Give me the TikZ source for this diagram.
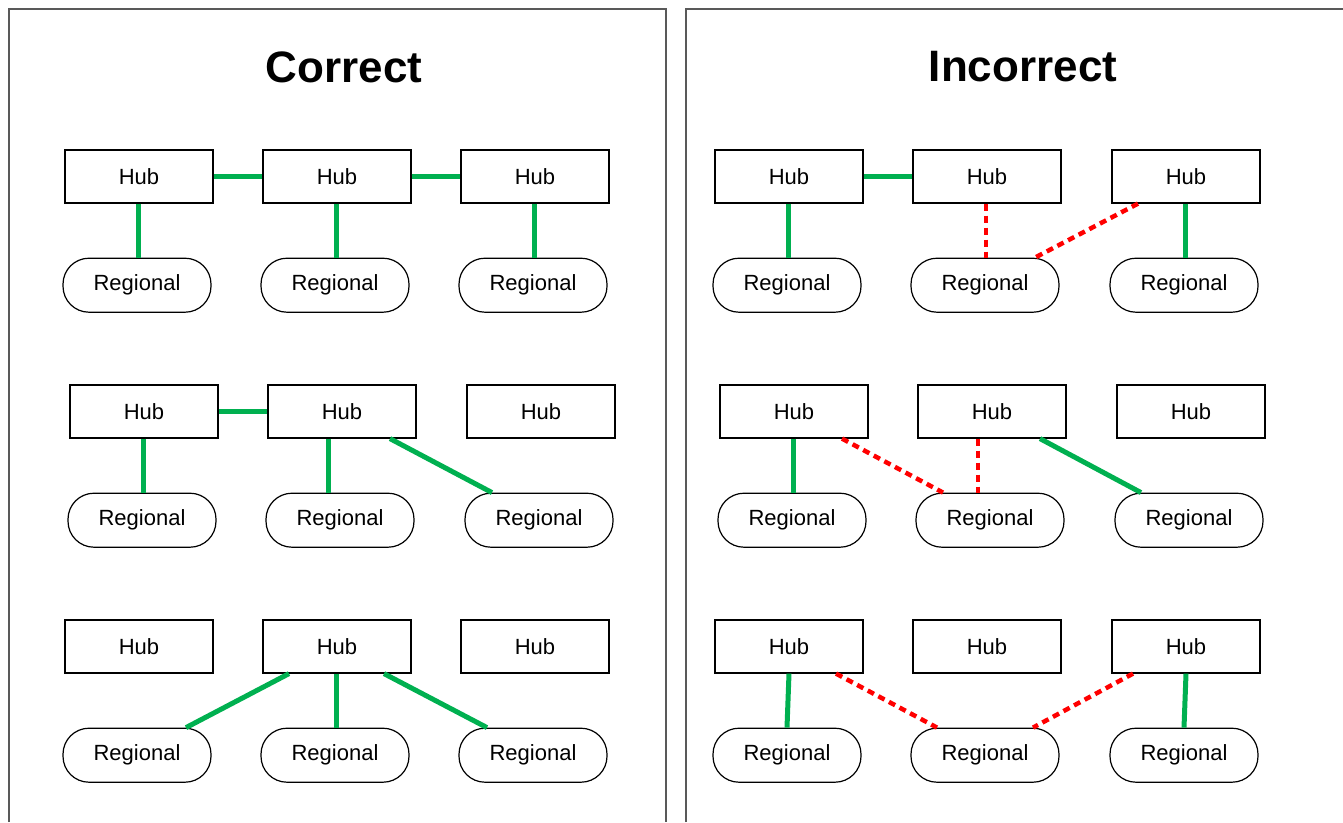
\documentclass[tikz,border=0pt]{standalone}
\usepackage{fontspec}
\setmainfont{Liberation Sans}
\usetikzlibrary{positioning}
\definecolor{linkgreen}{RGB}{0,176,80}
\definecolor{linkred}{RGB}{255,0,0}

\begin{document}
\begin{tikzpicture}[x=1pt, y=-1pt,
    hub/.style={draw, line width=1.2pt, minimum width=148pt, minimum height=53pt, inner sep=0pt, font=\fontsize{22}{26}\selectfont},
    regional/.style={draw, line width=1.2pt, rounded corners=26pt, minimum width=148pt, minimum height=54pt, inner sep=0pt, font=\fontsize{22}{26}\selectfont},
    good/.style={linkgreen, line width=5pt},
    bad/.style={linkred, line width=4.5pt, dash pattern=on 7pt off 5pt},
    heading/.style={font=\fontsize{44}{50}\selectfont\bfseries}]
    \useasboundingbox (0,0) rectangle (1343,822);
    % Panels
    \draw[line width=1.5pt, black!65] (9,822) -- (9,9) -- (666,9) -- (666,822);
    \draw[line width=1.5pt, black!65] (686,822) -- (686,9) -- (1350,9);
    \node[heading] (tc) at (344,67) {Correct};
    \node[heading] (ti) at (1023,67) {Incorrect};

    % Correct, row 1
    \node[hub] (c1h1) at (139,176.5) {Hub};
    \node[hub] (c1h2) at (337,176.5) {Hub};
    \node[hub] (c1h3) at (535,176.5) {Hub};
    \node[regional, below=54pt of c1h1, xshift=-2pt] (c1r1) {Regional};
    \node[regional, below=54pt of c1h2, xshift=-2pt] (c1r2) {Regional};
    \node[regional, below=54pt of c1h3, xshift=-2pt] (c1r3) {Regional};
    \draw[good] (c1h1) -- (c1h2);
    \draw[good] (c1h2) -- (c1h3);
    \draw[good] ([xshift=-1pt]c1h1.south) -- ([xshift=1pt]c1r1.north);
    \draw[good] ([xshift=-1pt]c1h2.south) -- ([xshift=1pt]c1r2.north);
    \draw[good] ([xshift=-1pt]c1h3.south) -- ([xshift=1pt]c1r3.north);

    % Correct, row 2
    \node[hub] (c2h1) at (144,411.5) {Hub};
    \node[hub] (c2h2) at (342,411.5) {Hub};
    \node[hub] (c2h3) at (541,411.5) {Hub};
    \node[regional, below=54pt of c2h1, xshift=-2pt] (c2r1) {Regional};
    \node[regional, below=54pt of c2h2, xshift=-2pt] (c2r2) {Regional};
    \node[regional, below=54pt of c2h3, xshift=-2pt] (c2r3) {Regional};
    \draw[good] (c2h1) -- (c2h2);
    \draw[good] ([xshift=-1pt]c2h1.south) -- ([xshift=1pt]c2r1.north);
    \draw[good] ([xshift=-14pt]c2h2.south) -- ([xshift=-12pt]c2r2.north);
    \draw[good] ([xshift=48pt]c2h2.south) -- ([xshift=-47pt]c2r3.north);

    % Correct, row 3
    \node[hub] (c3h1) at (139,646.5) {Hub};
    \node[hub] (c3h2) at (337,646.5) {Hub};
    \node[hub] (c3h3) at (535,646.5) {Hub};
    \node[regional, below=54pt of c3h1, xshift=-2pt] (c3r1) {Regional};
    \node[regional, below=54pt of c3h2, xshift=-2pt] (c3r2) {Regional};
    \node[regional, below=54pt of c3h3, xshift=-2pt] (c3r3) {Regional};
    \draw[good] ([xshift=-48pt]c3h2.south) -- ([xshift=49pt]c3r1.north);
    \draw[good] ([xshift=-1pt]c3h2.south) -- ([xshift=1pt]c3r2.north);
    \draw[good] ([xshift=47pt]c3h2.south) -- ([xshift=-46pt]c3r3.north);

    % Incorrect, row 1
    \node[hub] (i1h1) at (789,176.5) {Hub};
    \node[hub] (i1h2) at (987,176.5) {Hub};
    \node[hub] (i1h3) at (1186,176.5) {Hub};
    \node[regional, below=54pt of i1h1, xshift=-2pt] (i1r1) {Regional};
    \node[regional, below=54pt of i1h2, xshift=-2pt] (i1r2) {Regional};
    \node[regional, below=54pt of i1h3, xshift=-2pt] (i1r3) {Regional};
    \draw[good] (i1h1) -- (i1h2);
    \draw[good] ([xshift=-1pt]i1h1.south) -- ([xshift=1pt]i1r1.north);
    \draw[bad] ([xshift=-1pt]i1h2.south) -- ([xshift=1pt]i1r2.north);
    \draw[bad] ([xshift=-48pt]i1h3.south) -- ([xshift=50pt]i1r2.north);
    \draw[good] ([xshift=-1pt]i1h3.south) -- ([xshift=1pt]i1r3.north);

    % Incorrect, row 2
    \node[hub] (i2h1) at (794,411.5) {Hub};
    \node[hub] (i2h2) at (992,411.5) {Hub};
    \node[hub] (i2h3) at (1191,411.5) {Hub};
    \node[regional, below=54pt of i2h1, xshift=-2pt] (i2r1) {Regional};
    \node[regional, below=54pt of i2h2, xshift=-2pt] (i2r2) {Regional};
    \node[regional, below=54pt of i2h3, xshift=-2pt] (i2r3) {Regional};
    \draw[good] ([xshift=-1pt]i2h1.south) -- ([xshift=1pt]i2r1.north);
    \draw[bad] ([xshift=48pt]i2h1.south) -- ([xshift=-47pt]i2r2.north);
    \draw[bad] ([xshift=-14pt]i2h2.south) -- ([xshift=-12pt]i2r2.north);
    \draw[good] ([xshift=48pt]i2h2.south) -- ([xshift=-48pt]i2r3.north);

    % Incorrect, row 3
    \node[hub] (i3h1) at (789,646.5) {Hub};
    \node[hub] (i3h2) at (987,646.5) {Hub};
    \node[hub] (i3h3) at (1186,646.5) {Hub};
    \node[regional, below=54pt of i3h1, xshift=-2pt] (i3r1) {Regional};
    \node[regional, below=54pt of i3h2, xshift=-2pt] (i3r2) {Regional};
    \node[regional, below=54pt of i3h3, xshift=-2pt] (i3r3) {Regional};
    \draw[good] (i3h1.south) -- (i3r1.north);
    \draw[bad] ([xshift=47pt]i3h1.south) -- ([xshift=-48pt]i3r2.north);
    \draw[bad] ([xshift=-53pt]i3h3.south) -- ([xshift=48pt]i3r2.north);
    \draw[good] (i3h3.south) -- (i3r3.north);
\end{tikzpicture}
\end{document}
